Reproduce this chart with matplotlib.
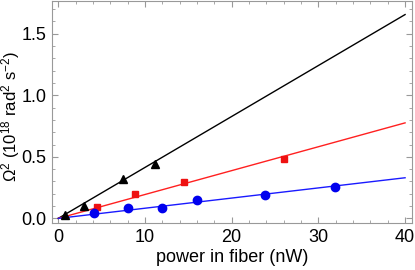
import matplotlib
matplotlib.use("Agg")
import matplotlib.pyplot as plt
import numpy as np
from matplotlib.ticker import MultipleLocator

plt.rcParams['font.family'] = ['Liberation Sans', 'DejaVu Sans']
plt.rcParams['mathtext.fontset'] = 'custom'
plt.rcParams['mathtext.rm'] = 'Liberation Sans'
plt.rcParams['mathtext.it'] = 'Liberation Sans'

# data
black_x = [0.8, 3.0, 7.5, 11.2]
black_y = [0.027, 0.102, 0.316, 0.44]
black_slope = 0.0414

red_x = [4.5, 8.8, 14.5, 26.0]
red_y = [0.089, 0.195, 0.297, 0.483]
red_slope = 0.0194

blue_x = [4.1, 8.0, 12.0, 16.0, 23.9, 31.9]
blue_y = [0.045, 0.086, 0.086, 0.148, 0.186, 0.256]
blue_slope = 0.00825

fig = plt.figure(figsize=(4.15, 2.7), dpi=100)
ax = fig.add_axes([51.7/415, 1 - 223.3/270, (412 - 51.7)/415, 223.3/270 - 0.002])

xl = np.array([0, 40])
ax.plot(xl, black_slope * xl, color='black', lw=1)
ax.plot(xl, red_slope * xl, color='#ff2020', lw=1)
ax.plot(xl, blue_slope * xl, color='#1a1aff', lw=1)

ax.plot(black_x, black_y, '^', color='black', ms=5.5, zorder=3)
ax.plot(red_x, red_y, 's', color='#ee1111', ms=4.5, zorder=3)
ax.plot(blue_x, blue_y, 'o', color='#0000ee', ms=6, zorder=3)

ax.set_xlim(-0.76, 40.8)
ax.set_ylim(-0.04, 1.77)
ax.xaxis.set_major_locator(MultipleLocator(10))
ax.xaxis.set_minor_locator(MultipleLocator(2))
ax.yaxis.set_major_locator(MultipleLocator(0.5))
ax.yaxis.set_minor_locator(MultipleLocator(0.1))
ax.yaxis.set_major_formatter(matplotlib.ticker.FormatStrFormatter('%.1f'))

for s in ax.spines.values():
    s.set_color('#999999')
    s.set_linewidth(0.8)
ax.tick_params(which='both', direction='in', top=True, right=True, color='#999999', labelsize=13)
ax.tick_params(which='major', length=4, pad=4)
ax.tick_params(which='minor', length=2)

ax.set_xlabel('power in fiber (nW)', fontsize=13, labelpad=2)
ax.set_ylabel(r'$\Omega^2$ (10$^{18}$ rad$^2$ s$^{-2}$)', fontsize=12)
ax.yaxis.set_label_coords((22 - 51.7) / 360.3, (218.3 - 111) / 223.3)

fig.savefig('out.png', dpi=100)
